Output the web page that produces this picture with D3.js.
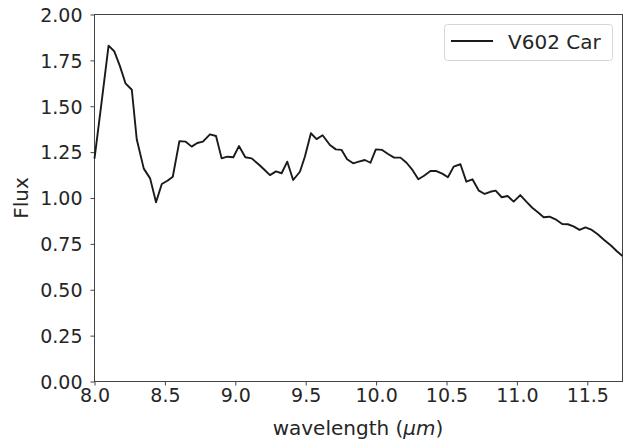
<!DOCTYPE html>
<html><head><meta charset="utf-8">
<script src="https://cdn.jsdelivr.net/npm/d3@7"></script>
<style>body{margin:0;background:#fff}svg{display:block}text{font-family:"DejaVu Sans",sans-serif;fill:#262626}</style>
</head><body>
<svg id="c" width="632" height="446"></svg>
<script>
const wavelength = [8.00,8.05,8.10,8.14,8.18,8.22,8.265,8.30,8.35,8.395,8.437,8.478,8.518,8.556,8.603,8.648,8.69,8.73,8.77,8.82,8.863,8.903,8.943,8.986,9.026,9.071,9.116,9.163,9.205,9.246,9.289,9.329,9.369,9.411,9.459,9.494,9.537,9.577,9.62,9.672,9.714,9.755,9.794,9.837,9.877,9.92,9.96,9.998,10.043,10.085,10.128,10.173,10.216,10.258,10.30,10.338,10.386,10.428,10.47,10.51,10.551,10.599,10.641,10.684,10.73,10.771,10.811,10.849,10.892,10.934,10.977,11.024,11.067,11.109,11.149,11.19,11.232,11.274,11.322,11.362,11.402,11.445,11.487,11.532,11.574,11.62,11.67,11.71,11.75];
const flux = [1.215,1.52,1.83,1.80,1.72,1.625,1.59,1.32,1.16,1.107,0.977,1.076,1.094,1.116,1.31,1.307,1.28,1.30,1.307,1.347,1.338,1.216,1.225,1.222,1.283,1.222,1.216,1.185,1.155,1.125,1.145,1.135,1.198,1.098,1.143,1.225,1.353,1.321,1.342,1.289,1.265,1.262,1.211,1.189,1.198,1.207,1.192,1.265,1.262,1.24,1.22,1.22,1.192,1.153,1.102,1.12,1.147,1.147,1.133,1.113,1.171,1.184,1.089,1.102,1.04,1.022,1.034,1.04,1.004,1.011,0.98,1.016,0.98,0.947,0.922,0.895,0.898,0.884,0.858,0.857,0.845,0.826,0.840,0.826,0.802,0.771,0.74,0.71,0.684];
const xTicks = [8.0,8.5,9.0,9.5,10.0,10.5,11.0,11.5];
const yTicks = [0,0.25,0.5,0.75,1.0,1.25,1.5,1.75,2.0];
const seriesName = "V602 Car";

const L=94.5, R=622.5, T=14.5, B=381.5;
const svg = d3.select("#c");
const x = d3.scaleLinear().domain([8,11.75]).range([L,R]);
const y = d3.scaleLinear().domain([0,2]).range([B,T]);

const fs = 19, fl = 20;
const xa = svg.append("g").attr("transform",`translate(0,${B})`)
  .call(d3.axisBottom(x).tickValues(xTicks).tickFormat(d3.format(".1f")).tickSize(4).tickSizeOuter(0));
const ya = svg.append("g").attr("transform",`translate(${L},0)`)
  .call(d3.axisLeft(y).tickValues(yTicks).tickFormat(d3.format(".2f")).tickSize(4).tickSizeOuter(0));
[xa,ya].forEach(g=>{
  g.select(".domain").remove();
  g.selectAll(".tick line").attr("stroke","#444").attr("stroke-width",1);
  g.selectAll(".tick text").attr("font-size",fs).attr("font-family","DejaVu Sans").attr("fill","#262626");
});
xa.selectAll(".tick text").attr("y",6).attr("dy","0.78em");
ya.selectAll(".tick text").attr("x",-12).attr("dy","0.36em");

svg.append("rect").attr("x",L).attr("y",T).attr("width",R-L).attr("height",B-T)
  .attr("fill","none").attr("stroke","#444").attr("stroke-width",1);

const line = d3.line().x((d,i)=>x(wavelength[i])).y(d=>y(d));
svg.append("path").datum(flux).attr("d",line).attr("fill","none")
  .attr("stroke","#1a1a1a").attr("stroke-width",1.9).attr("stroke-linejoin","round");

svg.append("text").attr("x",358).attr("y",435).attr("text-anchor","middle").attr("font-size",fl)
  .html('wavelength (<tspan font-style="italic">μm</tspan>)');
svg.append("text").attr("transform",`translate(28,${(T+B)/2}) rotate(-90)`).attr("text-anchor","middle")
  .attr("font-size",fl).text("Flux");

const lg = svg.append("g");
lg.append("rect").attr("x",444.5).attr("y",24.5).attr("width",168).attr("height",36).attr("rx",3)
  .attr("fill","#fff").attr("stroke","#d6d6d6");
lg.append("line").attr("x1",451).attr("x2",493).attr("y1",41).attr("y2",41).attr("stroke","#1a1a1a").attr("stroke-width",1.9);
lg.append("text").attr("x",508).attr("y",48.5).attr("font-size",fl).text(seriesName);
</script>
</body></html>
